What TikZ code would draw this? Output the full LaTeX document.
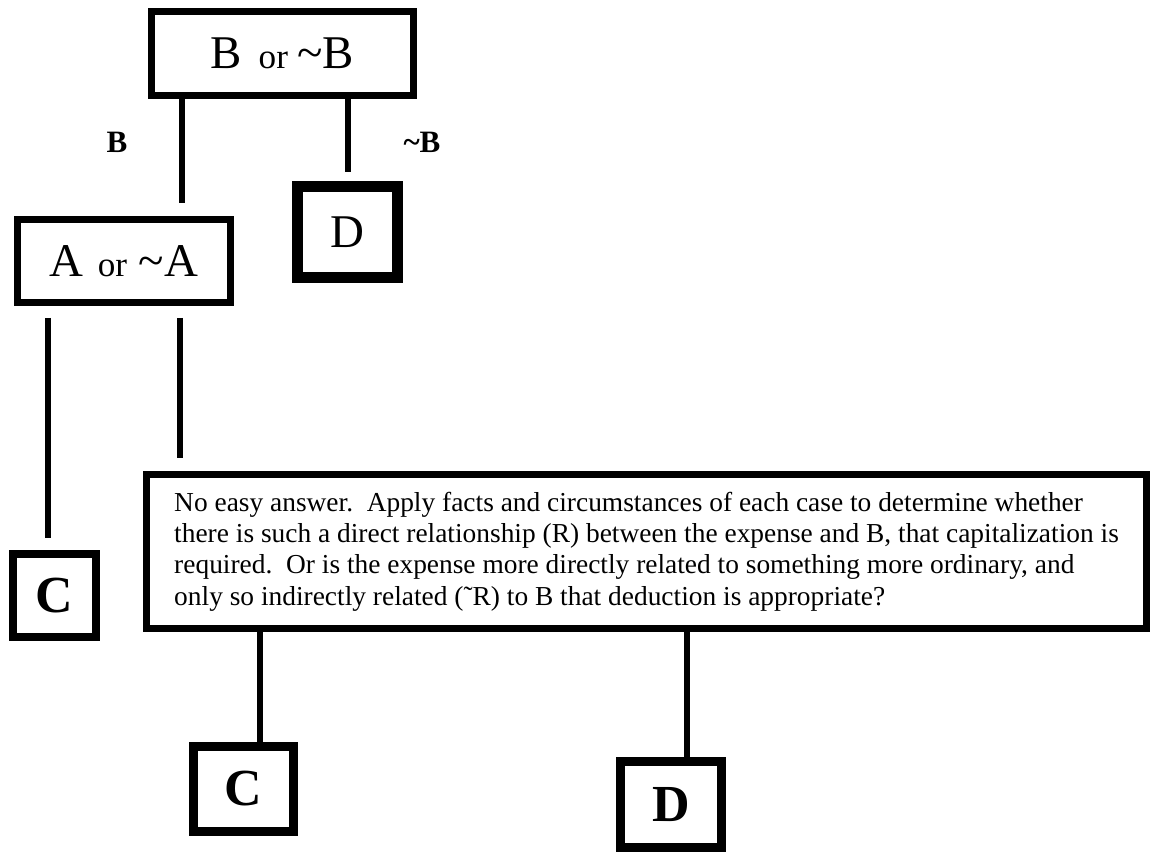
\documentclass[tikz,border=0pt]{standalone}
\usepackage{fontspec}
\setmainfont{Liberation Serif}
\usepackage{tikz}

\begin{document}
\begin{tikzpicture}[x=0.02cm,y=-0.02cm,
  box/.style={draw,line width=3.98pt,inner sep=0pt},
  link/.style={line width=3.4pt},
  big/.style={font=\fontsize{26.7}{30}\selectfont},
  lab/.style={font=\fontsize{17.7}{20}\selectfont\bfseries},
  ans/.style={font=\fontsize{29.6}{33}\selectfont\bfseries}]
\useasboundingbox (0,0) rectangle (1151,852);

\node[box,minimum width=5.24cm,minimum height=1.68cm,big] (bor) at (282.5,53.5) {\raisebox{-0.1em}{B\hspace{0.35em}{\fontsize{20}{24}\selectfont or}\hspace{0.2em}\textasciitilde B}};
\node[box,line width=6.26pt,minimum width=2.0cm,minimum height=1.82cm,big] (d1) at (347.5,232) {D};
\node[box,minimum width=4.26cm,minimum height=1.66cm,big] (aor) at (124,261) {\raisebox{-0.08em}{A\hspace{0.3em}{\fontsize{20}{24}\selectfont or}\hspace{0.25em}\textasciitilde A}};
\node[box,line width=4.55pt,minimum width=1.66cm,minimum height=1.66cm,ans] (c1) at (54.5,595.5) {C};

\node[lab] (lb) at (117,142) {B};
\node[lab] (lnb) at (422,142) {\textasciitilde B};

\node[box,minimum width=20cm,minimum height=3.08cm,align=left,font=\fontsize{15.6}{17.9}\selectfont] (qq) at (646.5,551.5)
  {No easy answer.\ \ Apply facts and circumstances of each case to determine whether\\
   there is such a direct relationship (R) between the expense and B, that capitalization is\\
   required.\ \ Or is the expense more directly related to something more ordinary, and\\
   only so indirectly related ({\char"02DC}R) to B that deduction is appropriate?};

\node[box,line width=5.12pt,minimum width=2.0cm,minimum height=1.70cm,ans] (c2) at (243.5,789) {C};
\node[box,line width=5.12pt,minimum width=2.02cm,minimum height=1.72cm,ans] (d2) at (671,804.5) {D};

\coordinate (e1) at (182,203);
\coordinate (e2) at (348,172);
\coordinate (e3) at (48,538);
\coordinate (e4) at (180,458);

\draw[link] (bor.south -| e1) -- (e1);
\draw[link] (bor.south -| e2) -- (e2);
\draw[link,shorten <=0.24cm] (aor.south -| e3) -- (e3);
\draw[link,shorten <=0.24cm] (aor.south -| e4) -- (e4);
\draw[link] ([xshift=0.33cm]c2.north) -- ([xshift=0.33cm]c2.north |- qq.south);
\draw[link] ([xshift=0.32cm]d2.north) -- ([xshift=0.32cm]d2.north |- qq.south);
\end{tikzpicture}
\end{document}
